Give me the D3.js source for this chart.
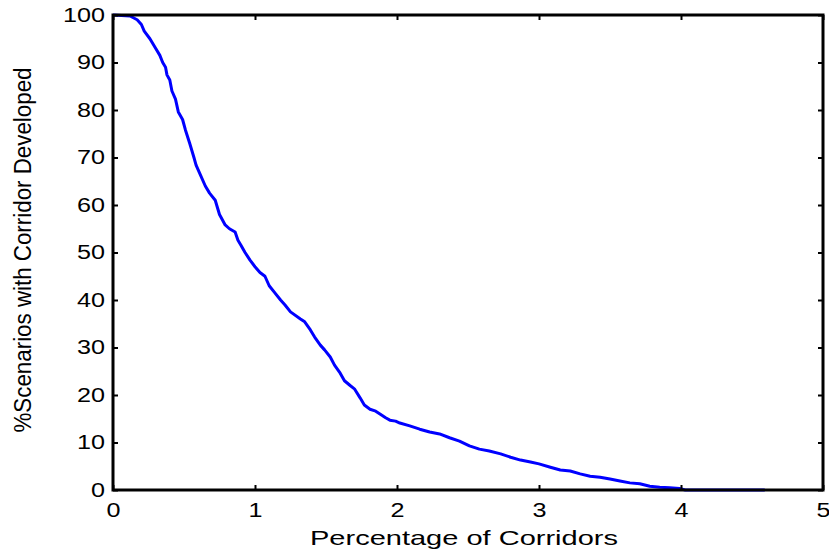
<!DOCTYPE html>
<html>
<head>
<meta charset="utf-8">
<script src="https://cdn.jsdelivr.net/npm/d3@7"></script>
<style>
  body { margin: 0; background: #fff; }
  svg text { font-family: 'Liberation Sans', Arial, sans-serif; fill: #000; }
</style>
</head>
<body>
<div id="container"></div>
<script>
// share of corridors (%) vs % of scenarios in which the corridor was developed
const pctCorridors = [0, 0.12, 0.17, 0.2, 0.22, 0.26, 0.3, 0.33, 0.35, 0.37, 0.38, 0.4, 0.415, 0.44, 0.46, 0.49, 0.51,
  0.54, 0.57, 0.585, 0.61, 0.65, 0.68, 0.72, 0.75, 0.79, 0.82, 0.86, 0.88, 0.9, 0.93, 0.965, 1.0, 1.035, 1.07,
  1.1, 1.14, 1.18, 1.21, 1.25, 1.32, 1.35, 1.39, 1.42, 1.46, 1.49, 1.53, 1.56, 1.6, 1.63, 1.67, 1.7, 1.74, 1.77,
  1.81, 1.85, 1.88, 1.92, 1.95, 1.99, 2.02, 2.09, 2.16, 2.23, 2.3, 2.37, 2.44, 2.51, 2.58, 2.65, 2.73, 2.8, 2.87,
  2.94, 3.0, 3.08, 3.15, 3.22, 3.29, 3.36, 3.43, 3.5, 3.57, 3.64, 3.71, 3.78, 3.85, 3.92, 3.99, 4.03, 4.3, 4.59];
const pctScenarios = [100, 99.8, 99, 98, 96.6, 95, 93, 91.5, 90, 89, 87.4, 86.3, 84, 82.3, 79.6, 78, 75.8,
  73, 70, 68.4, 66.7, 64, 62.5, 61, 58, 55.8, 55, 54.3, 52.6, 51.6, 50, 48.4, 47, 45.8, 45,
  43, 41.5, 40, 39, 37.5, 36, 35.4, 33.7, 32.2, 30.5, 29.5, 28, 26.3, 24.6, 23, 22, 21.3, 19.4, 17.9,
  17, 16.6, 16, 15.2, 14.7, 14.5, 14.1, 13.5, 12.8, 12.2, 11.8, 11, 10.3, 9.3, 8.6, 8.2, 7.6, 6.9, 6.3,
  5.9, 5.5, 4.8, 4.2, 4, 3.4, 2.9, 2.7, 2.3, 1.9, 1.5, 1.3, 0.8, 0.6, 0.45, 0.3, 0, 0, 0];
const xTicks = [0, 1, 2, 3, 4, 5];
const yTicks = [0, 10, 20, 30, 40, 50, 60, 70, 80, 90, 100];

const width = 829;
const height = 550;
const margin = {left: 113, right: 6, top: 15, bottom: 60};

const svg = d3.select('#container').append('svg')
  .attr('width', width)
  .attr('height', height);

const x = d3.scaleLinear().domain([0, 5]).range([margin.left, width - margin.right]);
const y = d3.scaleLinear().domain([0, 100]).range([height - margin.bottom, margin.top]);

const data = pctCorridors.map((v, i) => ({x: v, y: pctScenarios[i]}));

// curve first, axes drawn on top
svg.append('path')
  .datum(data)
  .attr('fill', 'none')
  .attr('stroke', '#0000ff')
  .attr('stroke-width', 3)
  .attr('stroke-linejoin', 'round')
  .attr('d', d3.line().x(d => x(d.x)).y(d => y(d.y)));

// the original figure is stretched sideways, so widen the digits
const axisStyle = g => {
  g.select('.domain').remove();
  g.selectAll('.tick line').attr('stroke', '#000').attr('stroke-width', 2);
  g.selectAll('.tick text')
    .style('font-size', '20px')
    .attr('lengthAdjust', 'spacingAndGlyphs')
    .attr('textLength', function() { return this.textContent.length * 14; });
};

// bottom / left with labels, ticks pointing inward
svg.append('g')
  .attr('transform', `translate(0,${y(0)})`)
  .call(d3.axisBottom(x).tickValues(xTicks).tickFormat(d3.format('d')).tickSizeInner(-5).tickSizeOuter(0).tickPadding(13))
  .call(axisStyle);

svg.append('g')
  .attr('transform', `translate(${x(0)},0)`)
  .call(d3.axisLeft(y).tickValues(yTicks).tickFormat(d3.format('d')).tickSizeInner(-5).tickSizeOuter(0).tickPadding(8))
  .call(axisStyle);

// mirrored ticks on top / right, no labels
svg.append('g')
  .attr('transform', `translate(0,${y(100)})`)
  .call(d3.axisTop(x).tickValues(xTicks).tickSizeInner(-5).tickSizeOuter(0).tickFormat(''))
  .call(axisStyle);

svg.append('g')
  .attr('transform', `translate(${x(5)},0)`)
  .call(d3.axisRight(y).tickValues(yTicks).tickSizeInner(-5).tickSizeOuter(0).tickFormat(''))
  .call(axisStyle);

// box
svg.append('rect')
  .attr('x', x(0))
  .attr('y', y(100))
  .attr('width', x(5) - x(0))
  .attr('height', y(0) - y(100))
  .attr('fill', 'none')
  .attr('stroke', '#000')
  .attr('stroke-width', 3);

svg.append('text')
  .attr('x', 464)
  .attr('y', 545)
  .attr('text-anchor', 'middle')
  .attr('textLength', 308)
  .attr('lengthAdjust', 'spacingAndGlyphs')
  .style('font-size', '21px')
  .text('Percentage of Corridors');

svg.append('text')
  .attr('transform', 'translate(31,250) rotate(-90)')
  .attr('text-anchor', 'middle')
  .attr('textLength', 365)
  .attr('lengthAdjust', 'spacingAndGlyphs')
  .style('font-size', '23px')
  .text('%Scenarios with Corridor Developed');
</script>
</body>
</html>
